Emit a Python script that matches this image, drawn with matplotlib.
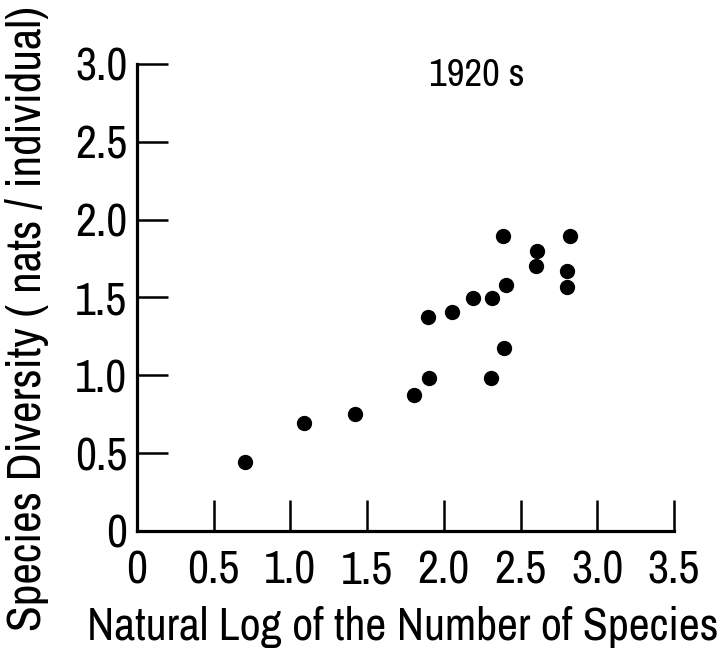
import matplotlib
matplotlib.use("Agg")
import matplotlib.pyplot as plt

ln_species = [0.704, 1.091, 1.419, 1.806, 1.895, 1.906, 2.055, 2.192, 2.314,
              2.310, 2.386, 2.406, 2.394, 2.605, 2.601, 2.824, 2.801, 2.805]
diversity = [0.441, 0.695, 0.751, 0.875, 1.372, 0.985, 1.405, 1.496, 1.496,
             0.984, 1.895, 1.582, 1.177, 1.798, 1.702, 1.895, 1.673, 1.568]
x_ticks = [0, 0.5, 1.0, 1.5, 2.0, 2.5, 3.0, 3.5]
x_labels = ["0", "0.5", "1.0", "1.5", "2.0", "2.5", "3.0", "3.5"]
y_ticks = [0, 0.5, 1.0, 1.5, 2.0, 2.5, 3.0]
y_labels = ["0", "0.5", "1.0", "1.5", "2.0", "2.5", "3.0"]

plt.rcParams["font.family"] = ["Archivo Narrow", "Liberation Sans", "DejaVu Sans"]

fig = plt.figure(figsize=(7.24, 6.48), dpi=100)
ax = fig.add_axes([0.1892, 0.1806, 0.7417, 0.7207])
ax.scatter(ln_species, diversity, s=100, color="black", zorder=3, clip_on=False)

ax.set_xlim(0, 3.5)
ax.set_ylim(0, 3.0)
ax.set_xticks(x_ticks)
ax.set_xticklabels(x_labels)
ax.set_yticks(y_ticks)
ax.set_yticklabels(y_labels)
for s in ["top", "right"]:
    ax.spines[s].set_visible(False)
for s in ["left", "bottom"]:
    ax.spines[s].set_linewidth(2.3)
ax.tick_params(direction="in", length=22, width=1.8, labelsize=33)
ax.tick_params(axis="x", pad=13)
ax.tick_params(axis="y", pad=7)
ax.set_xlabel("Natural Log of the Number of Species", fontsize=33)
ax.xaxis.set_label_coords(0.495, -0.16)
ax.set_ylabel("Species Diversity ( nats / individual)", fontsize=34)
ax.yaxis.set_label_coords(-0.163, 0.456)
ax.text(0.633, 1.012, "1920 s", transform=ax.transAxes, ha="center", va="top", fontsize=28)

fig.savefig("out.png", dpi=100, facecolor="white")
